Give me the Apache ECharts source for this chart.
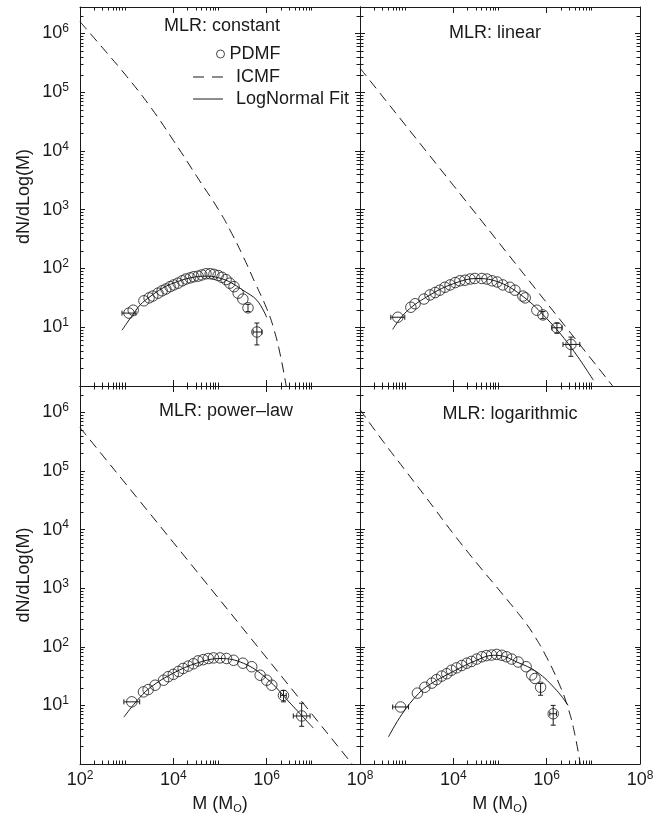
<!DOCTYPE html>
<html><head><meta charset="utf-8">
<script src="https://cdn.jsdelivr.net/npm/echarts@6/dist/echarts.min.js"></script>
<style>html,body{margin:0;padding:0;background:#fff}#c{width:665px;height:816px}</style>
</head><body><div id="c"></div>
<script>
// ---------------- data ----------------
const panelTitles = ['MLR: constant', 'MLR: linear', 'MLR: power\u2013law', 'MLR: logarithmic'];

// Panel 1: constant
const constPdmfM = [1120,1380,2340,3020,3630,4680,5750,6920,8510,10200,12600,15500,18600,22900,27500,33900,40700,50100,61700,74100,91200,110000,135000,162000,200000,245000,309000,398000,617000];
const constPdmfN = [17.4,19.5,28.2,31.6,33.9,38.0,41.7,44.7,49.0,52.5,56.2,61.7,66.1,69.2,72.4,74.1,77.6,81.3,81.3,79.4,75.9,70.8,64.6,56.2,49.0,38.0,30.2,21.4,8.3];
const constFitM = [794,1259,1950,3162,6026,10000,22909,52481,114815,199526,309030,616595,1000000];
const constFitN = [8.9,15.1,24.0,33.1,46.8,56.2,69.2,74.1,66.1,53.7,42.7,28.8,14.8];
const constIcmfM = [100,316,1000,3162,10000,31623,100000,177828,316228,562341,1000000,1412538,1995262,2754229];
const constIcmfN = [1585000,550000,186200,57500,15140,3715,912,398,158,57.5,20.9,9.55,3.16,0.79];
// [M, N, Mlow, Mhigh, Nlow, Nhigh]
const constErr = [[1120,17.4,794,1580,17.4,17.4],[398000,21.4,398000,398000,18.5,24.5],[617000,8.3,513000,794000,5.0,11.8]];

// Panel 2: linear
const linPdmfM = [646,1230,1514,2344,3162,4074,5129,6607,8511,10965,13804,17783,22909,28840,40738,52481,67608,87096,114815,162181,208930,309030,346737,616595,831764,1659587,3311311];
const linPdmfN = [14.8,21.9,25.1,30.2,35.5,38.9,42.7,47.9,52.5,57.5,61.7,63.1,66.1,67.6,67.6,66.1,61.7,58.9,52.5,47.9,42.7,33.9,31.6,19.5,16.2,9.8,5.1];
const linFitM = [501,1000,3162,10000,31623,100000,316228,1000000,3162278,10000000];
const linFitN = [9.2,18.6,35.5,55.0,67.6,57.5,33.1,14.1,4.8,1.26];
const linIcmfM = [100,10000,1000000,50000000];
const linIcmfN = [257000,2600,26,0.52];
const linErr = [[646,14.8,457,912,14.8,14.8],[831764,16.2,831764,831764,14.0,18.5],[1659587,9.8,1290000,2140000,7.9,11.7],[3311311,5.1,2240000,5130000,3.2,6.8]];

// Panel 3: power-law
const powPdmfM = [1288,2291,2884,4074,6166,7762,10000,12882,16218,20893,26915,33884,43652,56234,72444,100000,138038,194984,309030,478630,724436,1000000,1288250,2290868,5623413];
const powPdmfN = [11.5,17.0,18.6,22.1,26.9,30.9,33.9,38.0,42.7,46.8,51.3,57.5,60.3,63.1,64.6,64.6,63.1,58.9,52.5,45.7,32.7,26.9,22.1,14.8,6.6];
const powFitM = [871,1585,3162,10000,31623,100000,316228,1000000,3162278,10000000];
const powFitN = [6.3,11.5,20.0,35.5,52.5,63.1,52.5,28.8,11.0,4.1];
const powIcmfM = [100,10000,1000000,100000000];
const powIcmfN = [550000,6030,64.6,0.68];
const powErr = [[1288,11.5,871,1900,11.5,11.5],[2290868,14.8,1990000,2630000,11.5,18.0],[5623413,6.6,3720000,8510000,4.4,10.9]];

// Panel 4: logarithmic
const logPdmfM = [741,1698,2455,3467,4365,5623,7244,9120,11749,15136,19498,24547,31623,40738,51286,66069,85114,109648,138038,177828,245471,363078,478630,562341,741310,1380384];
const logPdmfN = [9.4,16.2,20.4,24.0,27.5,31.6,34.7,39.8,43.7,47.9,52.5,56.2,61.7,67.6,70.8,72.4,74.1,71.6,67.6,61.7,55.0,45.7,33.1,28.8,20.4,7.2];
const logFitM = [407,794,1778,3162,10000,31623,72444,100000,229087,616595,1621810,2884032];
const logFitN = [2.9,7.1,15.8,22.9,38.0,58.9,71.6,70.8,55.0,37.2,18.2,10.0];
const logIcmfM = [100,316,1000,3162,10000,31623,100000,316228,562341,1000000,1778279,2818383,3981072,5495409];
const logIcmfN = [1120000,316000,95500,28800,8510,2690,891,288,148,66.1,25.1,9.5,3.3,0.8];
const logErr = [[741,9.4,501,1096,9.4,9.4],[741310,20.4,741310,741310,14.9,23.6],[1380384,7.2,1170000,1620000,4.6,10.0]];

// ---------------- chart ----------------
const X_MIN = 100, X_MAX = 1e8, Y_MIN = 1, Y_MAX = Math.pow(10, 6.45);
const FONT = '"Liberation Sans", Arial, Helvetica, sans-serif';
const INK = '#1a1a1a';
const MINOR = 3.5;

const zip = (a, b) => a.map((v, i) => [v, b[i]]);
const panels = [
  {pm: constPdmfM, pn: constPdmfN, fm: constFitM, fn: constFitN, im: constIcmfM, iN: constIcmfN, err: constErr},
  {pm: linPdmfM, pn: linPdmfN, fm: linFitM, fn: linFitN, im: linIcmfM, iN: linIcmfN, err: linErr},
  {pm: powPdmfM, pn: powPdmfN, fm: powFitM, fn: powFitN, im: powIcmfM, iN: powIcmfN, err: powErr},
  {pm: logPdmfM, pn: logPdmfN, fm: logFitM, fn: logFitN, im: logIcmfM, iN: logIcmfN, err: logErr}
];

const grids = [
  {left: 80, top: 7, width: 280, height: 379},
  {left: 360, top: 7, width: 280, height: 379},
  {left: 80, top: 386, width: 280, height: 378},
  {left: 360, top: 386, width: 280, height: 378}
];

// minor tick values (axis decoration)
const yMinorTicks = [];
for (let e = 0; e <= 6; e++) for (let k = 2; k <= 9; k++) { const v = k * Math.pow(10, e); if (v < Y_MAX) yMinorTicks.push(v); }
const xMinorTicks = [];
for (const e of [2, 4, 6]) for (let k = 2; k <= 9; k++) xMinorTicks.push(k * Math.pow(10, e));
const tickData = yMinorTicks.map(v => [X_MIN, v, 0]).concat(xMinorTicks.map(v => [v, Y_MIN, 1]));

function supLabel(v) {
  const e = Math.round(Math.log10(v));
  return '{b|10}{s|' + e + '}';
}
const supRich = {
  b: {fontSize: 18, fontFamily: FONT, color: INK},
  s: {fontSize: 12, fontFamily: FONT, color: INK, padding: [0, 0, 9, 0]}
};

const xAxes = [], yAxes = [], series = [], titles = [];
grids.forEach((g, i) => {
  const bottomRow = i >= 2, leftCol = i % 2 === 0;
  const common = {type: 'log', logBase: 10, gridIndex: i, splitLine: {show: false},
    axisLine: {show: true, lineStyle: {color: INK, width: 1}}};
  xAxes.push(Object.assign({}, common, {
    min: X_MIN, max: X_MAX, interval: 2, position: 'bottom',
    axisTick: {show: true, inside: true, length: 6, lineStyle: {color: INK}},
    axisLabel: {show: bottomRow, formatter: supLabel, rich: supRich, margin: 6, showMinLabel: leftCol, showMaxLabel: true},
    name: bottomRow ? 'M (M{s|O})' : '', nameLocation: 'middle', nameGap: 30,
    nameTextStyle: {fontSize: 18, fontFamily: FONT, color: INK, rich: {s: {fontSize: 11, fontFamily: FONT, color: INK, padding: [9, 0, 0, 0]}}}
  }));
  xAxes.push(Object.assign({}, common, {
    min: X_MIN, max: X_MAX, interval: 2, position: 'top',
    axisTick: {show: true, inside: true, length: 6, lineStyle: {color: INK}},
    axisLabel: {show: false}
  }));
  yAxes.push(Object.assign({}, common, {
    min: Y_MIN, max: Y_MAX, splitNumber: 6, position: 'left',
    axisTick: {show: true, inside: true, length: 5, lineStyle: {color: INK}},
    axisLabel: {show: leftCol, formatter: supLabel, rich: supRich, margin: 11, showMinLabel: false, showMaxLabel: false},
    name: leftCol ? 'dN/dLog(M)' : '', nameLocation: 'middle', nameGap: 47,
    nameTextStyle: {fontSize: 18, fontFamily: FONT, color: INK}
  }));
  yAxes.push(Object.assign({}, common, {
    min: Y_MIN, max: Y_MAX, splitNumber: 6, position: 'right',
    axisTick: {show: true, inside: true, length: 5, lineStyle: {color: INK}},
    axisLabel: {show: false}
  }));

  const p = panels[i];
  const xi = 2 * i, yi = 2 * i;
  series.push({
    name: 'ticks', type: 'custom', xAxisIndex: xi, yAxisIndex: yi, silent: true, z: 1,
    encode: {x: 0, y: 1}, data: tickData,
    renderItem: function (params, api) {
      const cs = params.coordSys;
      const st = {stroke: INK, lineWidth: 1};
      if (api.value(2) === 0) {
        const y = Math.round(api.coord([X_MIN, api.value(1)])[1]) + 0.5;
        return {type: 'group', children: [
          {type: 'line', shape: {x1: cs.x, y1: y, x2: cs.x + MINOR, y2: y}, style: st},
          {type: 'line', shape: {x1: cs.x + cs.width - MINOR, y1: y, x2: cs.x + cs.width, y2: y}, style: st}
        ]};
      } else {
        const x = Math.round(api.coord([api.value(0), Y_MIN])[0]) + 0.5;
        return {type: 'group', children: [
          {type: 'line', shape: {x1: x, y1: cs.y + cs.height, x2: x, y2: cs.y + cs.height - MINOR}, style: st},
          {type: 'line', shape: {x1: x, y1: cs.y, x2: x, y2: cs.y + MINOR}, style: st}
        ]};
      }
    }
  });
  series.push({
    name: 'ICMF', type: 'line', xAxisIndex: xi, yAxisIndex: yi, data: zip(p.im, p.iN),
    symbol: 'none', showSymbol: false, smooth: 0.45, clip: true, z: 2,
    lineStyle: {color: INK, width: 1, type: [10, 6]}, itemStyle: {color: INK}
  });
  series.push({
    name: 'LogNormal Fit', type: 'line', xAxisIndex: xi, yAxisIndex: yi, data: zip(p.fm, p.fn),
    symbol: 'none', showSymbol: false, smooth: 0.4, clip: true, z: 2,
    lineStyle: {color: INK, width: 1}, itemStyle: {color: INK}
  });
  series.push({
    name: 'errbars', type: 'custom', xAxisIndex: xi, yAxisIndex: yi, silent: true, z: 3,
    encode: {x: 0, y: 1}, data: p.err,
    renderItem: function (params, api) {
      const n = api.value(1), m = api.value(0);
      const lo = api.coord([api.value(2), n]), hi = api.coord([api.value(3), n]);
      const bl = api.coord([m, api.value(4)]), bh = api.coord([m, api.value(5)]);
      const st = {stroke: INK, lineWidth: 1};
      const cap = 2.5, kids = [];
      if (hi[0] - lo[0] > 1) {
        kids.push({type: 'line', shape: {x1: lo[0], y1: lo[1], x2: hi[0], y2: hi[1]}, style: st});
        kids.push({type: 'line', shape: {x1: lo[0], y1: lo[1] - cap, x2: lo[0], y2: lo[1] + cap}, style: st});
        kids.push({type: 'line', shape: {x1: hi[0], y1: hi[1] - cap, x2: hi[0], y2: hi[1] + cap}, style: st});
      }
      if (bl[1] - bh[1] > 1) {
        kids.push({type: 'line', shape: {x1: bl[0], y1: bl[1], x2: bh[0], y2: bh[1]}, style: st});
        kids.push({type: 'line', shape: {x1: bl[0] - cap, y1: bl[1], x2: bl[0] + cap, y2: bl[1]}, style: st});
        kids.push({type: 'line', shape: {x1: bh[0] - cap, y1: bh[1], x2: bh[0] + cap, y2: bh[1]}, style: st});
      }
      return {type: 'group', children: kids};
    }
  });
  series.push({
    name: 'PDMF', type: 'scatter', xAxisIndex: xi, yAxisIndex: yi, data: zip(p.pm, p.pn),
    symbol: 'circle', symbolSize: 10.5, z: 4,
    itemStyle: {color: 'rgba(255,255,255,0)', borderColor: INK, borderWidth: 1}
  });
});

const titlePos = [[222, 17], [495, 24], [226, 402], [510, 405]];
panelTitles.forEach((t, i) => {
  titles.push({text: t, left: titlePos[i][0], top: titlePos[i][1], textAlign: 'center', padding: 0,
    textStyle: {fontSize: 18, fontWeight: 'normal', fontFamily: FONT, color: INK}});
});

const legTS = {fontSize: 18, fontFamily: FONT, color: INK};
const option = {
  animation: false,
  backgroundColor: '#fff',
  title: titles,
  grid: grids,
  xAxis: xAxes,
  yAxis: yAxes,
  legend: [
    {left: 216, top: 45, padding: 0, itemWidth: 8, itemHeight: 8, selectedMode: false,
      data: [{name: 'PDMF', icon: 'circle', itemStyle: {color: 'rgba(255,255,255,0)', borderColor: INK, borderWidth: 1}}],
      textStyle: legTS},
    {left: 193, top: 68, padding: 0, itemWidth: 30, itemHeight: 1, selectedMode: false,
      data: [{name: 'ICMF', icon: 'path://M0,0h11v1h-11z M19,0h11v1h-11z', itemStyle: {color: INK, borderWidth: 0}}],
      textStyle: Object.assign({padding: [0, 0, 0, 8]}, legTS)},
    {left: 193, top: 90, padding: 0, itemWidth: 30, itemHeight: 1, selectedMode: false,
      data: [{name: 'LogNormal Fit', icon: 'path://M0,0h30v1h-30z', itemStyle: {color: INK, borderWidth: 0}}],
      textStyle: Object.assign({padding: [0, 0, 0, 8]}, legTS)}
  ],
  series: series
};
const chart = echarts.init(document.getElementById('c'), null, {renderer: 'canvas'});
chart.setOption(option);
</script>
</body></html>
